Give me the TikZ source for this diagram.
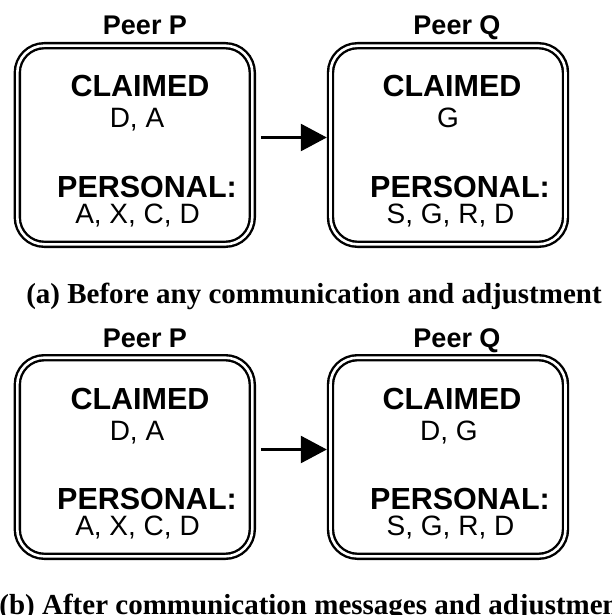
\documentclass[tikz,border=0pt]{standalone}
\usepackage{fontspec}
\setmainfont{Liberation Serif}
\setsansfont{Liberation Sans}
\usetikzlibrary{arrows.meta}

\tikzset{
	peerbox/.style={draw, double, line width=2.4pt, double distance=2.6pt, rounded corners=27pt,
		minimum width=235pt, minimum height=198.6pt, inner sep=0pt, outer sep=0pt},
	peername/.style={font=\sffamily\bfseries\fontsize{27}{27}\selectfont, anchor=base},
	sethead/.style={font=\sffamily\bfseries\fontsize{30.5}{30}\selectfont, anchor=base, inner sep=0pt},
	setitems/.style={font=\sffamily\fontsize{28}{28}\selectfont, anchor=base, inner sep=0pt},
	subcap/.style={font=\bfseries\fontsize{29}{29}\selectfont, anchor=base, inner sep=0pt},
	msg/.style={line width=2.6pt, -{Triangle[length=26pt,width=27pt]}, shorten <=8.5pt, shorten >=3.7pt}
}

\begin{document}
\begin{tikzpicture}[x=1pt,y=-1pt]
		
		\useasboundingbox (0,0) rectangle (611,615);
		
		% (a) before any communication
		\node[peername] (nameP1) at (145,35) {Peer P};
		\node[peername] (nameQ1) at (457,35) {Peer Q};
		\node[peerbox] (P1) at (134.8,145) {};
		\node[peerbox] (Q1) at (448,145) {};
		
		\node[sethead] (claimP1) at (140,97) {CLAIMED};
		\node[setitems] (cP1) at (137,128) {D, A};
		\node[sethead] (persP1) at (147,197.5) {PERSONAL:};
		\node[setitems] (pP1) at (137.5,223) {A, X, C, D};
		
		\node[sethead] (claimQ1) at (452,97) {CLAIMED};
		\node[setitems] (cQ1) at (448,128) {G};
		\node[sethead] (persQ1) at (460,197.5) {PERSONAL:};
		\node[setitems] (pQ1) at (450.5,223) {S, G, R, D};
		
		\draw[msg] ([yshift=7.5pt]P1.east) -- ([yshift=7.5pt]Q1.west);
		
		\node[subcap] (capA) at (314,303) {(a) Before any communication and adjustment};
		
		% (b) after messages and adjustment
		\begin{scope}[shift={(0,312)}]
			\node[peername] (nameP2) at (145,35) {Peer P};
			\node[peername] (nameQ2) at (457,35) {Peer Q};
			\node[peerbox] (P2) at (134.8,145) {};
			\node[peerbox] (Q2) at (448,145) {};
			
			\node[sethead] (claimP2) at (140,97) {CLAIMED};
			\node[setitems] (cP2) at (137,128) {D, A};
			\node[sethead] (persP2) at (147,197.5) {PERSONAL:};
			\node[setitems] (pP2) at (137.5,223) {A, X, C, D};
			
			\node[sethead] (claimQ2) at (452,97) {CLAIMED};
			\node[setitems] (cQ2) at (449,128) {D, G};
			\node[sethead] (persQ2) at (460,197.5) {PERSONAL:};
			\node[setitems] (pQ2) at (450.5,223) {S, G, R, D};
			
			\draw[msg] ([yshift=7.5pt]P2.east) -- ([yshift=7.5pt]Q2.west);
		\end{scope}
		
		\node[subcap] (capB) at (314,614) {(b) After communication messages and adjustment};
		
	\end{tikzpicture}
\end{document}
